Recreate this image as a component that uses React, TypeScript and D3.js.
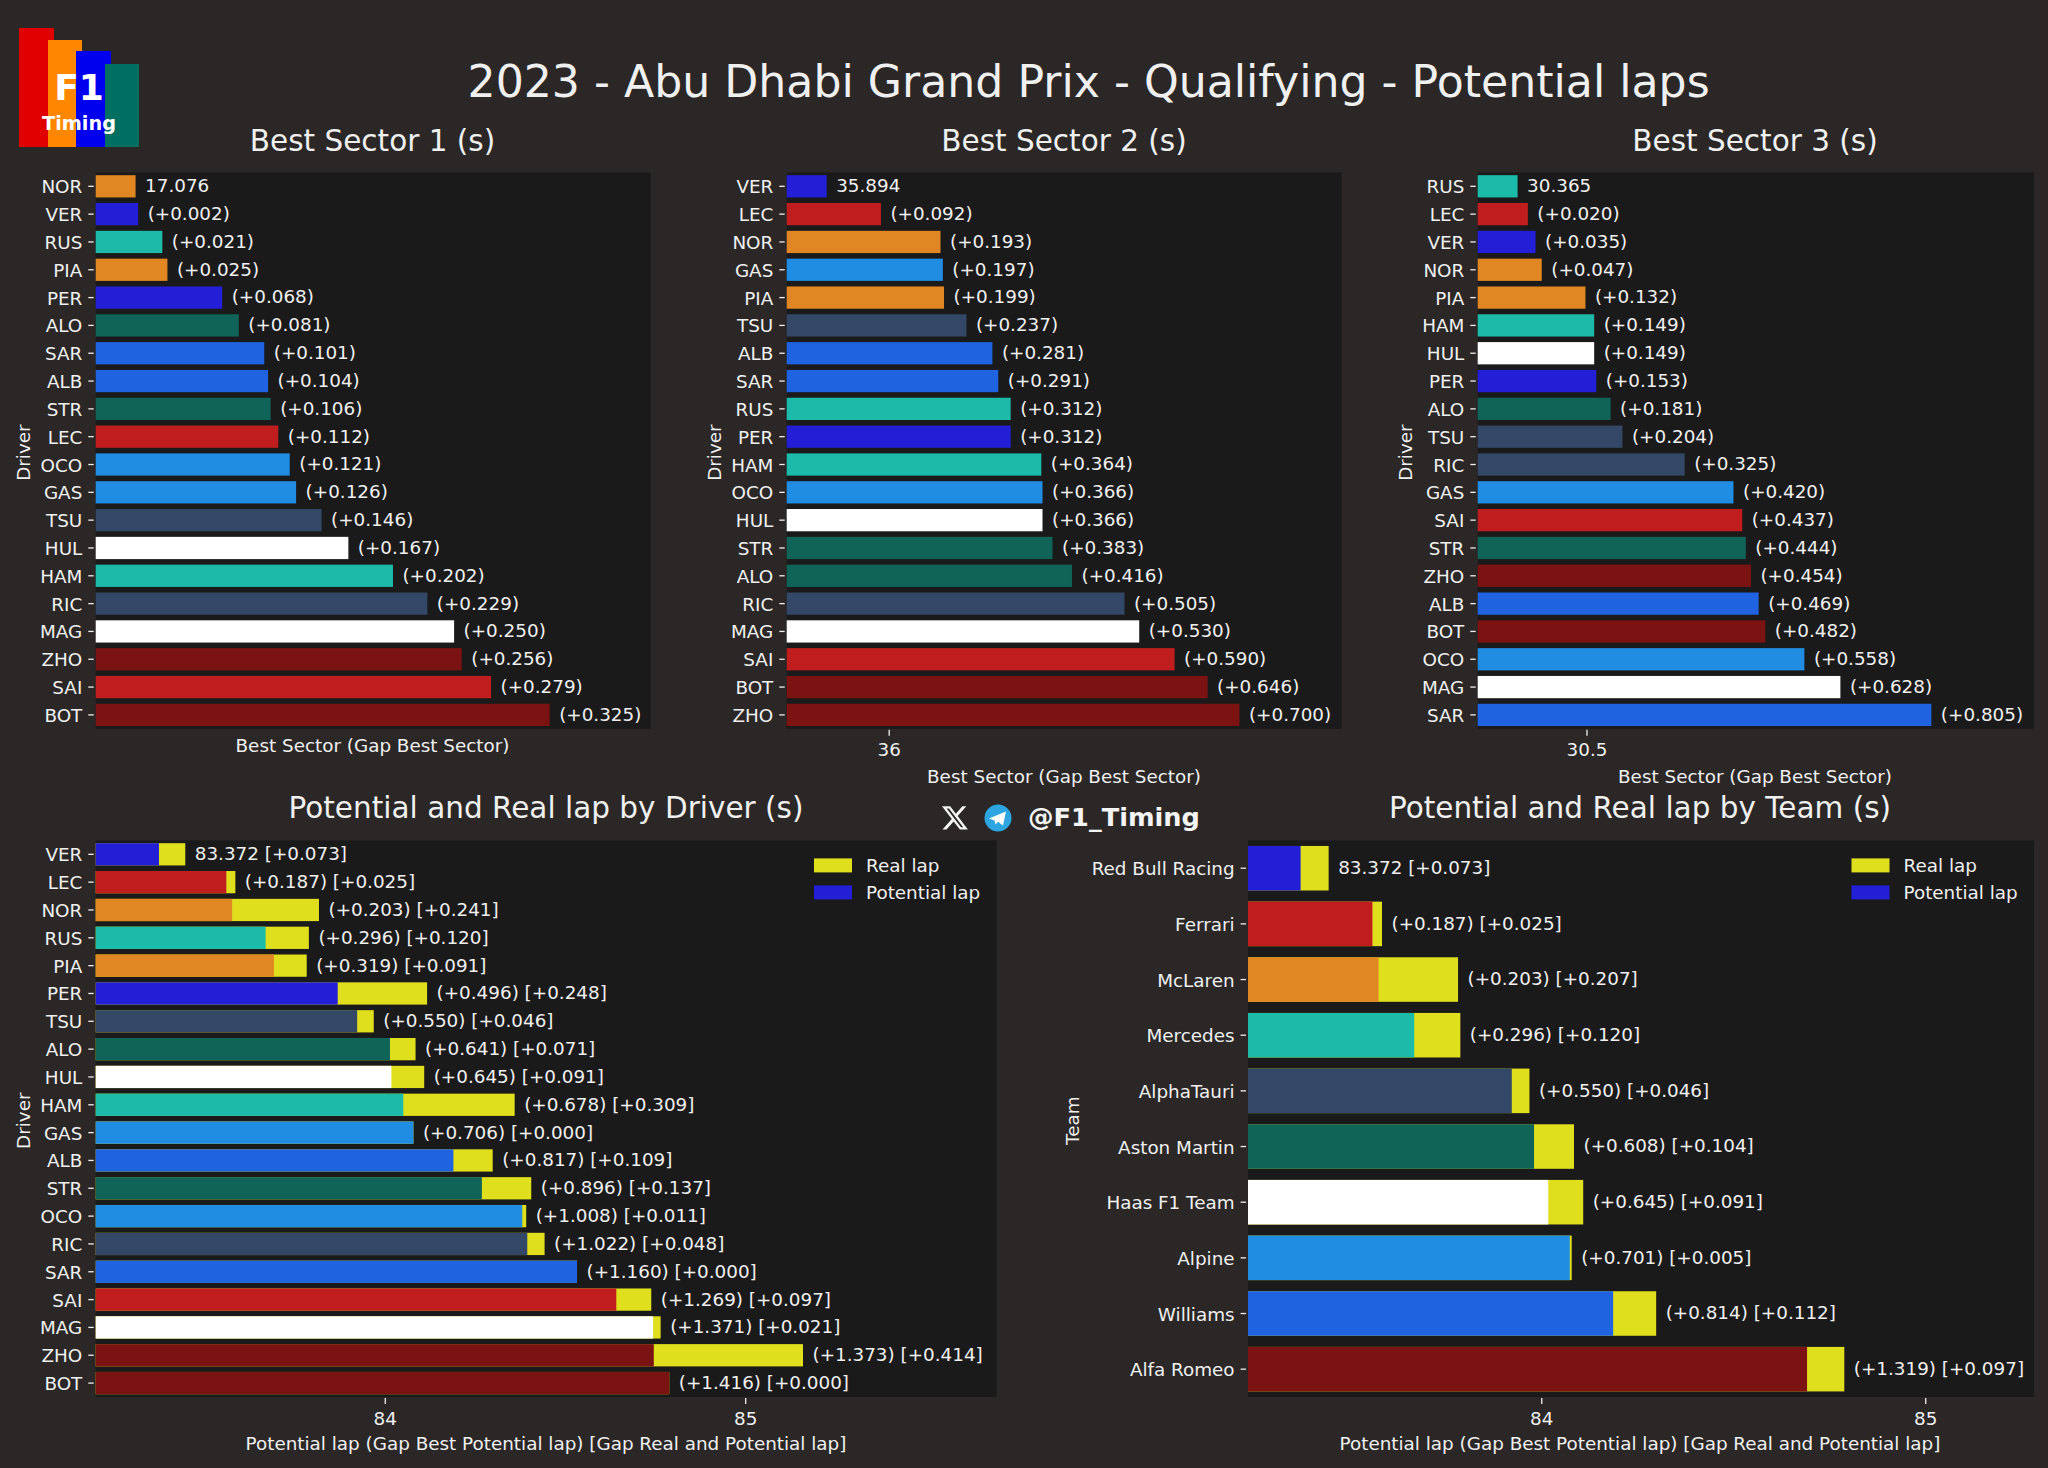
import React from "react";
import * as d3 from "d3";

const W = 2048, H = 1468;
const FONT = "'DejaVu Sans', sans-serif";
const TXT = "#f0f0f0";
const BG = "#2a2726";
const PANEL = "#1b1a1a";
const YELLOW = "#e0df1e";

const teamColors: Record<string, string> = {
  "Red Bull Racing": "#231fd6", Ferrari: "#c01e1e", McLaren: "#e08623", Mercedes: "#1cbba9",
  AlphaTauri: "#324866", "Aston Martin": "#0f6457", "Haas F1 Team": "#ffffff", Alpine: "#208ce2",
  Williams: "#1f63e0", "Alfa Romeo": "#7b1313",
};
const driverTeam: Record<string, string> = {
  VER: "Red Bull Racing", PER: "Red Bull Racing", LEC: "Ferrari", SAI: "Ferrari", NOR: "McLaren", PIA: "McLaren",
  RUS: "Mercedes", HAM: "Mercedes", TSU: "AlphaTauri", RIC: "AlphaTauri", ALO: "Aston Martin", STR: "Aston Martin",
  HUL: "Haas F1 Team", MAG: "Haas F1 Team", GAS: "Alpine", OCO: "Alpine", ALB: "Williams", SAR: "Williams",
  ZHO: "Alfa Romeo", BOT: "Alfa Romeo",
};

const s1Drivers = ["NOR","VER","RUS","PIA","PER","ALO","SAR","ALB","STR","LEC","OCO","GAS","TSU","HUL","HAM","RIC","MAG","ZHO","SAI","BOT"];
const s1Gaps = [0,0.002,0.021,0.025,0.068,0.081,0.101,0.104,0.106,0.112,0.121,0.126,0.146,0.167,0.202,0.229,0.250,0.256,0.279,0.325];
const s1Best = 17.076;
const s2Drivers = ["VER","LEC","NOR","GAS","PIA","TSU","ALB","SAR","RUS","PER","HAM","OCO","HUL","STR","ALO","RIC","MAG","SAI","BOT","ZHO"];
const s2Gaps = [0,0.092,0.193,0.197,0.199,0.237,0.281,0.291,0.312,0.312,0.364,0.366,0.366,0.383,0.416,0.505,0.530,0.590,0.646,0.700];
const s2Best = 35.894;
const s3Drivers = ["RUS","LEC","VER","NOR","PIA","HAM","HUL","PER","ALO","TSU","RIC","GAS","SAI","STR","ZHO","ALB","BOT","OCO","MAG","SAR"];
const s3Gaps = [0,0.020,0.035,0.047,0.132,0.149,0.149,0.153,0.181,0.204,0.325,0.420,0.437,0.444,0.454,0.469,0.482,0.558,0.628,0.805];
const s3Best = 30.365;

const lapBest = 83.372;
const lapDrivers = ["VER","LEC","NOR","RUS","PIA","PER","TSU","ALO","HUL","HAM","GAS","ALB","STR","OCO","RIC","SAR","SAI","MAG","ZHO","BOT"];
const lapGaps = [0,0.187,0.203,0.296,0.319,0.496,0.550,0.641,0.645,0.678,0.706,0.817,0.896,1.008,1.022,1.160,1.269,1.371,1.373,1.416];
const lapRealGaps = [0.073,0.025,0.241,0.120,0.091,0.248,0.046,0.071,0.091,0.309,0,0.109,0.137,0.011,0.048,0,0.097,0.021,0.414,0];

const teamNames = ["Red Bull Racing","Ferrari","McLaren","Mercedes","AlphaTauri","Aston Martin","Haas F1 Team","Alpine","Williams","Alfa Romeo"];
const teamGaps = [0,0.187,0.203,0.296,0.550,0.608,0.645,0.701,0.814,1.319];
const teamRealGaps = [0.073,0.025,0.207,0.120,0.046,0.104,0.091,0.005,0.112,0.097];

const FS = 18.35;

function Frame({ box, names, yLabel, yLabelX, xTicks, x, xLabel, xLabelX, xLabelY, title, titleX, titleY, children }: any) {
  const y = d3.scaleBand<string>().domain(names).range([box.y0, box.y1]).paddingInner(0.2).paddingOuter(0.1);
  return (
    <g fontFamily={FONT}>
      <rect x={box.x0} y={box.y0} width={box.x1 - box.x0} height={box.y1 - box.y0} fill={PANEL} />
      {children(y)}
      {names.map((n: string) => {
        const c = y(n)! + y.bandwidth() / 2;
        return (
          <g key={n}>
            <line x1={box.x0 - 7.4} x2={box.x0 - 2} y1={c} y2={c} stroke={TXT} strokeWidth={1.3} />
            <text x={box.x0 - 13.4} y={c + 0.4} dy="0.36em" textAnchor="end" fontSize={FS} fill={TXT}>{n}</text>
          </g>
        );
      })}
      {xTicks.map((t: number) => (
        <g key={t}>
          <line x1={x(t)} x2={x(t)} y1={box.y1 + 1} y2={box.y1 + 7} stroke={TXT} strokeWidth={1.3} />
          <text x={x(t)} y={box.y1 + 21} dy="0.36em" textAnchor="middle" fontSize={FS} fill={TXT}>{t}</text>
        </g>
      ))}
      <text transform={`translate(${yLabelX},${(box.y0 + box.y1) / 2 + 2}) rotate(-90)`} dy="0.36em" textAnchor="middle" fontSize={FS} fill={TXT}>{yLabel}</text>
      <text x={xLabelX} y={xLabelY} dy="0.36em" textAnchor="middle" fontSize={FS} fill={TXT}>{xLabel}</text>
      <text x={titleX} y={titleY} dy="0.36em" textAnchor="middle" fontSize={29.5} fill={TXT}>{title}</text>
    </g>
  );
}

function SectorChart({ box, names, gaps, best, domain, ticks, title, titleX, yLabelX, xLabelY }: any) {
  const x = d3.scaleLinear().domain(domain).range([box.x0, box.x1]);
  return (
    <Frame box={box} names={names} yLabel="Driver" yLabelX={yLabelX} xTicks={ticks} x={x} xLabel="Best Sector (Gap Best Sector)"
      xLabelX={titleX} xLabelY={xLabelY} title={title} titleX={titleX} titleY={140}>
      {(y: any) => names.map((n: string, i: number) => {
        const v = best + gaps[i];
        return (
          <g key={n}>
            <rect x={box.x0} y={y(n)} width={x(v) - box.x0} height={y.bandwidth()} fill={teamColors[driverTeam[n]]} />
            <text x={x(v) + 9.5} y={y(n) + y.bandwidth() / 2 - 0.7} dy="0.36em" fontSize={FS} fill={TXT}>
              {i === 0 ? best.toFixed(3) : `(+${gaps[i].toFixed(3)})`}
            </text>
          </g>
        );
      })}
    </Frame>
  );
}

function LapChart({ box, names, gaps, realGaps, domain, colorOf, title, titleX, yLabel, yLabelX }: any) {
  const x = d3.scaleLinear().domain(domain).range([box.x0, box.x1]);
  const legendX = box.x1 - 182.5;
  return (
    <Frame box={box} names={names} yLabel={yLabel} yLabelX={yLabelX} xTicks={[84, 85]} x={x}
      xLabel="Potential lap (Gap Best Potential lap) [Gap Real and Potential lap]"
      xLabelX={titleX} xLabelY={1443} title={title} titleX={titleX} titleY={807}>
      {(y: any) => (
        <g>
          {names.map((n: string, i: number) => {
            const pot = lapBest + gaps[i];
            const real = pot + realGaps[i];
            return (
              <g key={n}>
                <rect x={box.x0} y={y(n)} width={x(real) - box.x0} height={y.bandwidth()} fill={YELLOW} />
                <rect x={box.x0} y={y(n)} width={x(pot) - box.x0} height={y.bandwidth()} fill={colorOf(n)} />
                <text x={x(real) + 9.5} y={y(n) + y.bandwidth() / 2 - 0.7} dy="0.36em" fontSize={FS} fill={TXT}>
                  {(i === 0 ? lapBest.toFixed(3) : `(+${gaps[i].toFixed(3)})`) + ` [+${realGaps[i].toFixed(3)}]`}
                </text>
              </g>
            );
          })}
          <rect x={legendX} y={box.y0 + 18} width={38} height={14} fill={YELLOW} />
          <rect x={legendX} y={box.y0 + 45} width={38} height={14} fill={teamColors["Red Bull Racing"]} />
          <text x={legendX + 52} y={box.y0 + 25} dy="0.36em" fontSize={FS} fill={TXT}>Real lap</text>
          <text x={legendX + 52} y={box.y0 + 52} dy="0.36em" fontSize={FS} fill={TXT}>Potential lap</text>
        </g>
      )}
    </Frame>
  );
}

function Logo() {
  return (
    <g fontFamily={FONT}>
      <rect x={19} y={28} width={35} height={119} fill="#e00000" />
      <rect x={48} y={40} width={34} height={107} fill="#ff8700" />
      <rect x={76} y={51} width={35} height={96} fill="#0000ee" />
      <rect x={105} y={64} width={34} height={83} fill="#006f62" />
      <text x={79} y={100} textAnchor="middle" fontSize={36} fontWeight="bold" fill="#fff">F1</text>
      <text x={79} y={130} textAnchor="middle" fontSize={19.3} fontWeight="bold" fill="#fff">Timing</text>
    </g>
  );
}

function Social() {
  return (
    <g fontFamily={FONT}>
      <path transform="translate(940.5,803.5) scale(1.2)" fillRule="evenodd" fill="#f4f4f4"
        d="M18.244 2.25h3.308l-7.227 8.26 8.502 11.24H16.17l-5.214-6.817L4.99 21.75H1.68l7.73-8.835L1.254 2.25H8.08l4.713 6.231zm-1.161 17.52h1.833L7.084 4.126H5.117z" />
      <circle cx={998} cy={818} r={13.5} fill="#2ca5e0" />
      <path d="M989 818.5 L1006 811.5 L1003 825.5 L998 821.8 L995.5 824.5 L994.5 820.5 Z" fill="#fff" />
      <text x={1028} y={825.5} fontSize={25.6} fontWeight="bold" fill="#f4f4f4">@F1_Timing</text>
    </g>
  );
}

export default function App() {
  const top = { y0: 172.4, y1: 728.8 };
  const bot = { y0: 840.4, y1: 1397 };
  return (
    <svg width={W} height={H} viewBox={`0 0 ${W} ${H}`} style={{ position: "absolute", left: 0, top: 0, display: "block" }}>
      <rect width={W} height={H} fill={BG} />
      <Logo />
      <text x={1088.6} y={81} dy="0.36em" textAnchor="middle" fontFamily={FONT} fontSize={44.2} fill={TXT}>2023 - Abu Dhabi Grand Prix - Qualifying - Potential laps</text>
      <SectorChart box={{ x0: 95.7, x1: 650.7, ...top }} names={s1Drivers} gaps={s1Gaps} best={s1Best} domain={[17.0447, 17.4803]} ticks={[]}
        title="Best Sector 1 (s)" titleX={372.5} yLabelX={23} xLabelY={745} />
      <SectorChart box={{ x0: 786.7, x1: 1341.7, ...top }} names={s2Drivers} gaps={s2Gaps} best={s2Best} domain={[35.8262, 36.7674]} ticks={[36]}
        title="Best Sector 2 (s)" titleX={1064} yLabelX={714} xLabelY={776} />
      <SectorChart box={{ x0: 1477.7, x1: 2033.7, ...top }} names={s3Drivers} gaps={s3Gaps} best={s3Best} domain={[30.2874, 31.3691]} ticks={[30.5]}
        title="Best Sector 3 (s)" titleX={1755} yLabelX={1405} xLabelY={776} />
      <LapChart box={{ x0: 95.7, x1: 996.5, ...bot }} names={lapDrivers} gaps={lapGaps} realGaps={lapRealGaps} domain={[83.1965, 85.6959]}
        colorOf={(n: string) => teamColors[driverTeam[n]]} title="Potential and Real lap by Driver (s)" titleX={546} yLabel="Driver" yLabelX={23} />
      <LapChart box={{ x0: 1248, x1: 2034, ...bot }} names={teamNames} gaps={teamGaps} realGaps={teamRealGaps} domain={[83.235, 85.282]}
        colorOf={(n: string) => teamColors[n]} title="Potential and Real lap by Team (s)" titleX={1640} yLabel="Team" yLabelX={1072} />
      <Social />
    </svg>
  );
}
